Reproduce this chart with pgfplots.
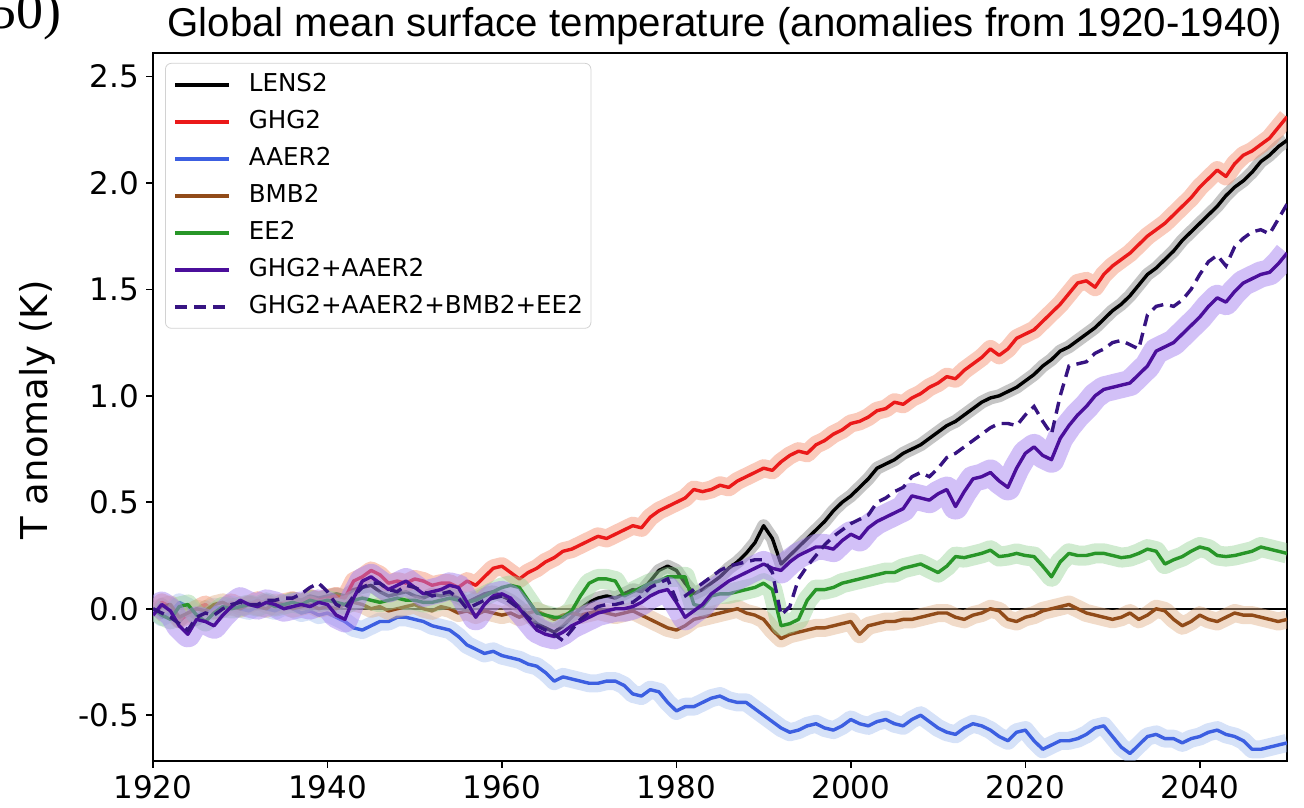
\documentclass[border=0pt]{standalone}
\usepackage{fontspec}
\usepackage{pgfplots}
\usepackage{pgfplotstable}
\pgfplotsset{compat=1.18}
\newfontfamily\dejavu{DejaVu Sans}
\newfontfamily\arialf{Liberation Sans}
\newfontfamily\seriff{Liberation Serif}

\definecolor{cred}{RGB}{235,25,25}
\definecolor{cblue}{RGB}{60,95,225}
\definecolor{cbrown}{RGB}{145,75,25}
\definecolor{cgreen}{RGB}{40,150,40}
\definecolor{cpurp}{RGB}{75,15,155}
\definecolor{cdash}{RGB}{55,20,130}
\definecolor{bred}{RGB}{245,150,120}
\definecolor{bblack}{RGB}{140,140,140}
\definecolor{bblue}{RGB}{165,190,240}
\definecolor{bbrown}{RGB}{225,175,135}
\definecolor{bgreen}{RGB}{150,210,150}
\definecolor{bpurp}{RGB}{165,130,240}

\pgfplotstableread{
year lens ghg aaer bmb ee ga gabe
1920 -0.03 -0.02 0.00 -0.03 0.00 -0.03 0.00
1921 0.02 0.03 -0.04 0.01 -0.03 0.02 -0.02
1922 -0.01 0.01 -0.02 0.02 -0.05 -0.01 -0.04
1923 -0.06 -0.05 0.03 -0.04 0.01 -0.08 -0.07
1924 -0.02 -0.03 0.01 -0.02 0.02 -0.12 -0.10
1925 -0.05 0.00 -0.03 0.00 -0.03 -0.05 -0.04
1926 0.01 0.02 -0.02 -0.01 -0.06 -0.06 -0.02
1927 -0.02 -0.01 0.01 0.02 -0.02 -0.08 -0.03
1928 0.00 0.00 0.00 0.03 0.01 -0.03 0.00
1929 0.02 0.03 0.02 0.01 0.00 0.01 0.02
1930 0.01 0.01 0.00 0.00 0.01 0.04 0.03
1931 0.03 0.02 -0.01 0.02 0.02 0.02 0.02
1932 0.02 0.04 0.01 0.01 0.01 0.01 0.02
1933 0.04 0.02 0.00 0.00 0.03 0.03 0.04
1934 0.02 0.01 -0.01 0.03 0.01 0.02 0.04
1935 0.03 0.03 0.01 0.02 0.02 0.00 0.05
1936 0.05 0.04 0.00 0.00 0.03 0.01 0.05
1937 0.04 0.02 -0.02 0.01 0.02 0.02 0.07
1938 0.06 0.05 -0.01 0.02 0.04 0.01 0.10
1939 0.05 0.04 -0.03 0.00 0.03 0.03 0.12
1940 0.06 0.05 -0.02 0.01 0.04 0.02 0.08
1941 0.07 0.06 -0.04 0.00 0.03 -0.03 0.02
1942 0.06 0.05 -0.06 0.02 0.02 -0.05 0.00
1943 0.09 0.13 -0.09 0.03 0.04 0.05 0.06
1944 0.10 0.15 -0.10 0.02 0.05 0.13 0.10
1945 0.11 0.18 -0.08 0.00 0.04 0.15 0.12
1946 0.08 0.16 -0.06 0.01 0.03 0.12 0.12
1947 0.06 0.12 -0.06 -0.01 0.04 0.09 0.09
1948 0.07 0.13 -0.04 0.00 0.05 0.11 0.08
1949 0.08 0.12 -0.04 0.01 0.04 0.13 0.11
1950 0.06 0.14 -0.05 0.02 0.04 0.10 0.10
1951 0.05 0.13 -0.06 0.00 0.03 0.07 0.08
1952 0.07 0.11 -0.08 -0.01 0.03 0.08 0.06
1953 0.06 0.12 -0.09 0.01 0.04 0.09 0.07
1954 0.07 0.12 -0.10 0.00 0.05 0.11 0.08
1955 0.05 0.10 -0.13 -0.02 0.04 0.10 0.05
1956 0.03 0.13 -0.17 -0.01 0.03 0.03 0.00
1957 0.05 0.11 -0.19 -0.03 0.04 -0.04 0.02
1958 0.07 0.15 -0.21 -0.01 0.06 0.02 0.04
1959 0.08 0.19 -0.20 -0.02 0.08 0.06 0.05
1960 0.06 0.20 -0.22 -0.03 0.10 0.07 0.06
1961 0.04 0.17 -0.23 -0.02 0.11 0.05 0.03
1962 0.01 0.14 -0.24 -0.04 0.10 0.00 0.00
1963 -0.03 0.17 -0.26 -0.02 0.04 -0.05 -0.04
1964 -0.07 0.19 -0.27 -0.01 -0.02 -0.10 -0.08
1965 -0.09 0.22 -0.30 -0.03 -0.03 -0.12 -0.10
1966 -0.11 0.24 -0.34 -0.05 -0.04 -0.13 -0.12
1967 -0.08 0.27 -0.32 -0.03 -0.04 -0.11 -0.15
1968 -0.04 0.28 -0.33 -0.02 -0.01 -0.08 -0.10
1969 0.00 0.30 -0.34 -0.03 0.06 -0.06 -0.05
1970 0.03 0.32 -0.35 -0.02 0.12 -0.04 -0.02
1971 0.05 0.34 -0.35 -0.01 0.14 -0.02 0.01
1972 0.06 0.33 -0.34 -0.02 0.14 -0.01 0.02
1973 0.05 0.35 -0.34 -0.03 0.13 0.00 0.02
1974 0.07 0.37 -0.36 -0.02 0.06 0.00 0.03
1975 0.09 0.39 -0.40 -0.01 0.08 0.01 0.03
1976 0.08 0.38 -0.41 -0.03 0.10 0.03 0.06
1977 0.13 0.43 -0.38 -0.05 0.12 0.06 0.10
1978 0.18 0.46 -0.39 -0.07 0.13 0.08 0.12
1979 0.20 0.48 -0.44 -0.09 0.15 0.09 0.14
1980 0.18 0.50 -0.48 -0.10 0.15 0.03 0.04
1981 0.12 0.52 -0.46 -0.08 0.15 -0.04 0.06
1982 0.07 0.56 -0.46 -0.05 0.02 -0.01 0.09
1983 0.09 0.55 -0.44 -0.04 0.01 0.02 0.12
1984 0.12 0.56 -0.42 -0.03 0.06 0.07 0.15
1985 0.15 0.58 -0.41 -0.02 0.07 0.10 0.18
1986 0.19 0.57 -0.43 -0.01 0.07 0.13 0.20
1987 0.22 0.60 -0.44 0.00 0.08 0.15 0.21
1988 0.26 0.62 -0.44 -0.02 0.09 0.17 0.22
1989 0.31 0.64 -0.47 -0.03 0.10 0.19 0.23
1990 0.39 0.66 -0.50 -0.05 0.12 0.21 0.23
1991 0.33 0.65 -0.53 -0.10 0.09 0.19 0.17
1992 0.21 0.69 -0.56 -0.14 -0.08 0.18 -0.03
1993 0.25 0.72 -0.58 -0.12 -0.07 0.22 0.01
1994 0.29 0.74 -0.57 -0.11 -0.05 0.25 0.14
1995 0.33 0.73 -0.55 -0.10 0.04 0.27 0.20
1996 0.37 0.77 -0.54 -0.09 0.09 0.29 0.25
1997 0.41 0.79 -0.56 -0.09 0.09 0.29 0.30
1998 0.46 0.82 -0.57 -0.08 0.10 0.28 0.34
1999 0.50 0.84 -0.55 -0.07 0.12 0.32 0.37
2000 0.53 0.87 -0.52 -0.06 0.13 0.35 0.40
2001 0.57 0.88 -0.54 -0.12 0.14 0.33 0.42
2002 0.61 0.90 -0.55 -0.08 0.15 0.38 0.44
2003 0.66 0.93 -0.53 -0.07 0.16 0.41 0.50
2004 0.68 0.94 -0.52 -0.06 0.17 0.43 0.52
2005 0.70 0.97 -0.54 -0.06 0.17 0.45 0.55
2006 0.73 0.96 -0.55 -0.05 0.19 0.47 0.57
2007 0.75 0.99 -0.52 -0.05 0.20 0.53 0.62
2008 0.77 1.01 -0.50 -0.04 0.21 0.52 0.64
2009 0.80 1.04 -0.53 -0.03 0.19 0.51 0.62
2010 0.83 1.06 -0.56 -0.02 0.17 0.54 0.66
2011 0.86 1.09 -0.58 -0.02 0.20 0.56 0.71
2012 0.88 1.08 -0.59 -0.04 0.245 0.48 0.73
2013 0.91 1.12 -0.56 -0.05 0.24 0.55 0.76
2014 0.94 1.15 -0.54 -0.03 0.25 0.61 0.79
2015 0.97 1.18 -0.55 -0.02 0.26 0.62 0.82
2016 0.99 1.22 -0.57 0.00 0.275 0.64 0.85
2017 1.00 1.19 -0.60 -0.01 0.245 0.60 0.87
2018 1.02 1.22 -0.62 -0.05 0.25 0.57 0.87
2019 1.04 1.27 -0.58 -0.06 0.26 0.66 0.86
2020 1.07 1.29 -0.57 -0.04 0.25 0.73 0.91
2021 1.10 1.31 -0.62 -0.03 0.245 0.76 0.95
2022 1.14 1.35 -0.66 -0.01 0.20 0.72 0.88
2023 1.17 1.39 -0.64 0.00 0.15 0.70 0.82
2024 1.21 1.43 -0.62 0.01 0.22 0.80 1.00
2025 1.23 1.48 -0.62 0.02 0.26 0.86 1.14
2026 1.26 1.53 -0.61 0.00 0.25 0.91 1.15
2027 1.29 1.54 -0.59 -0.02 0.25 0.95 1.16
2028 1.32 1.51 -0.56 -0.03 0.26 1.00 1.20
2029 1.36 1.57 -0.55 -0.04 0.26 1.03 1.22
2030 1.40 1.61 -0.60 -0.05 0.25 1.04 1.25
2031 1.43 1.64 -0.65 -0.04 0.24 1.05 1.26
2032 1.47 1.67 -0.68 -0.02 0.245 1.06 1.24
2033 1.52 1.71 -0.64 -0.05 0.26 1.10 1.22
2034 1.57 1.75 -0.60 -0.03 0.28 1.14 1.38
2035 1.60 1.78 -0.59 0.00 0.27 1.21 1.42
2036 1.64 1.81 -0.61 -0.01 0.21 1.23 1.43
2037 1.68 1.85 -0.61 -0.05 0.23 1.25 1.42
2038 1.73 1.89 -0.63 -0.08 0.245 1.29 1.45
2039 1.77 1.93 -0.61 -0.06 0.27 1.33 1.50
2040 1.81 1.98 -0.60 -0.03 0.29 1.37 1.57
2041 1.85 2.02 -0.58 -0.05 0.28 1.42 1.63
2042 1.89 2.06 -0.57 -0.06 0.25 1.46 1.66
2043 1.94 2.03 -0.59 -0.04 0.245 1.44 1.61
2044 1.98 2.09 -0.60 -0.02 0.25 1.49 1.70
2045 2.01 2.13 -0.62 -0.03 0.26 1.53 1.74
2046 2.05 2.15 -0.66 -0.03 0.27 1.55 1.77
2047 2.10 2.18 -0.66 -0.04 0.29 1.57 1.78
2048 2.13 2.21 -0.65 -0.05 0.28 1.58 1.76
2049 2.17 2.26 -0.64 -0.06 0.27 1.62 1.83
2050 2.20 2.31 -0.63 -0.05 0.26 1.67 1.90
}\gmst

\begin{document}
\begin{tikzpicture}
\useasboundingbox (0,0) rectangle (652pt,403.5pt);
\node[font=\seriff\fontsize{27}{30}\selectfont, anchor=base east, inner sep=0pt] at (31pt,389pt) {50)};
\node[font=\arialf\fontsize{20.1}{24}\selectfont, anchor=base, inner sep=0pt] at (362.5pt,385pt) {Global mean surface temperature (anomalies from 1920-1940)};
\node[font=\dejavu\fontsize{18.5}{22}\selectfont, rotate=90, inner sep=0pt] at (18.5pt,198.5pt) {T anomaly (K)};
\begin{axis}[
  at={(76.5pt,23pt)}, anchor=south west,
  scale only axis, width=567pt, height=354pt,
  xmin=1920, xmax=2050, ymin=-0.715, ymax=2.61,
  xtick={1920,1940,1960,1980,2000,2020,2040},
  xticklabels={1920,1940,1960,1980,2000,2020,2040},
  ytick={-0.5,0,0.5,1,1.5,2,2.5},
  yticklabels={-0.5,0.0,0.5,1.0,1.5,2.0,2.5},
  tick align=outside, tick pos=left,
  major tick length=3.5pt,
  tick style={black, line width=0.8pt},
  axis line style={line width=0.9pt},
  tick label style={font=\dejavu\fontsize{15.5}{18}\selectfont},
  clip=true,
  legend cell align=left,
  legend style={at={(rel axis cs:0.0106,0.986)}, anchor=north west,
    draw=gray!35, fill=white, rounded corners=3pt,
    inner xsep=4pt, inner ysep=5pt, row sep=7pt, column sep=0pt,
    font=\dejavu\fontsize{12.3}{14}\selectfont,
    nodes={inner sep=0pt, text height=9pt, text depth=2.5pt}},
  legend image code/.code={\draw[#1] (0pt,0pt) -- (27pt,0pt); \path (36pt,0pt);},
]
\addplot[black, line width=0.8pt, forget plot] coordinates {(1920,0) (2050,0)};
% LENS2
\addplot[draw=bblack, opacity=0.5, line width=6.5pt, line join=round, forget plot] table[x=year,y=lens] {\gmst};
\addplot[black, line width=1.7pt, line join=round] table[x=year,y=lens] {\gmst};
\addlegendentry{LENS2}
% GHG2
\addplot[draw=bred, opacity=0.5, line width=9pt, line join=round, forget plot] table[x=year,y=ghg] {\gmst};
\addplot[cred, line width=1.7pt, line join=round] table[x=year,y=ghg] {\gmst};
\addlegendentry{GHG2}
% AAER2
\addplot[draw=bblue, opacity=0.45, line width=9pt, line join=round, forget plot] table[x=year,y=aaer] {\gmst};
\addplot[cblue, line width=1.7pt, line join=round] table[x=year,y=aaer] {\gmst};
\addlegendentry{AAER2}
% BMB2
\addplot[draw=bbrown, opacity=0.45, line width=9pt, line join=round, forget plot] table[x=year,y=bmb] {\gmst};
\addplot[cbrown, line width=1.7pt, line join=round] table[x=year,y=bmb] {\gmst};
\addlegendentry{BMB2}
% EE2
\addplot[draw=bgreen, opacity=0.45, line width=10pt, line join=round, forget plot] table[x=year,y=ee] {\gmst};
\addplot[cgreen, line width=1.7pt, line join=round] table[x=year,y=ee] {\gmst};
\addlegendentry{EE2}
% GHG2+AAER2
\addplot[draw=bpurp, opacity=0.5, line width=13pt, line join=round, forget plot] table[x=year,y=ga] {\gmst};
\addplot[cpurp, line width=1.7pt, line join=round] table[x=year,y=ga] {\gmst};
\addlegendentry{GHG2+AAER2}
% GHG2+AAER2+BMB2+EE2
\addplot[cdash, line width=1.7pt, dash pattern=on 6pt off 3.5pt] table[x=year,y=gabe] {\gmst};
\addlegendentry{GHG2+AAER2+BMB2+EE2}
\end{axis}
\end{tikzpicture}
\end{document}
